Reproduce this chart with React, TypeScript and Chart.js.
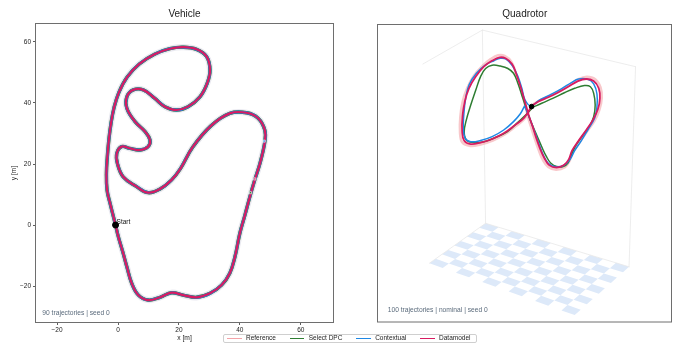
import React, { useEffect, useRef } from 'react';
import { Chart, registerables } from 'chart.js';

Chart.register(...registerables);

const FONT = "'Liberation Sans', Arial, Helvetica, sans-serif";

const seriesNames = ['Reference', 'Select DPC', 'Contextual', 'Datamodel'];
const seriesColors = ['#f4a3a8', '#2e7d32', '#1e88e5', '#d81b60'];

const vehicleTitle = 'Vehicle';
const quadTitle = 'Quadrotor';
const vehicleNote = '90 trajectories | seed 0';
const quadNote = '100 trajectories | nominal | seed 0';
const startLabel = 'Start';

const xTicks = [-20, 0, 20, 40, 60];
const yTicks = [-20, 0, 20, 40, 60];

// Vehicle race-track (x, y in metres)
const trackX = [-0.8, -2.6, -3.6, -3.8, -3.5, -3.0, -2.3, -1.3, 0.3, 3.0, 7.0, 12, 17, 21.4, 25.8, 29.1, 30.2, 29.3, 26.9, 23, 19.2, 15.4, 12.1, 8.3, 5, 2.9, 2.9, 5.6, 8.9, 10.5, 9.9, 7.2, 3.9, 1.2, -0.4, -0.2, 1.7, 6.1, 9.9, 13.8, 17.6, 20.5, 24.5, 30.5, 36.7, 42.2, 46, 48.2, 48.2, 46.6, 44.9, 43.3, 41.6, 40, 38.4, 36.7, 34, 30.2, 25.8, 21.4, 17.6, 13.8, 9.9, 6.7, 4.5, 2.9, 1.7, 0.1, -0.8];
const trackY = [0, 7.1, 11.5, 17, 22.4, 28, 33.3, 38.5, 43.5, 48.5, 52.8, 56, 57.8, 58.3, 57.6, 55.2, 50.8, 46.5, 42, 38.8, 37.7, 38.8, 41.5, 44.3, 44.3, 42, 38.3, 33.9, 30.6, 27.9, 25.7, 24.6, 25.1, 25.7, 23.5, 20.2, 15.8, 12.6, 10.6, 11.8, 14.8, 18.5, 25.5, 32.5, 36.6, 36.8, 35, 31.1, 27.3, 20.2, 14.8, 9.3, 3, -2.7, -10.4, -15.8, -19.7, -22.4, -23.7, -23, -22.2, -23.7, -24.6, -23, -19.1, -13.7, -9.3, -3.8, 0];

const startX = [-0.8];
const startY = [0];
// end markers: Contextual, Datamodel, Select DPC
const endX = [48.0, 44.9, 43.5];
const endY = [27.5, 15.1, 10.6];

// Quadrotor (projected view coordinates)
const quadRefU = [54.4, 56.9, 60.2, 63.6, 66.9, 70.2, 73.0, 75.8, 77.6, 78.0, 77.2, 75.6, 73.1, 70.6, 68.3, 67.2, 65.6, 62.6, 60.0, 58.2, 56.7, 55.3, 54.2, 53.2, 52.4, 51.6, 50.4, 49.1, 47.6, 45.3, 43.1, 40.6, 37.8, 34.9, 32.7, 31.2, 30.4, 30.3, 31.1, 33.7, 37.2, 41.3, 45.3, 49.1, 51.9, 53.4, 54.4];
const quadRefV = [72.2, 73.7, 75.1, 76.8, 78.8, 80.9, 81.7, 80.9, 78.2, 74.6, 70.7, 67.1, 63.6, 60.0, 56.7, 53.8, 51.6, 50.8, 51.7, 54.0, 57.6, 61.6, 65.1, 68.3, 71.6, 74.7, 78.7, 82.9, 86.7, 88.7, 88.9, 87.6, 85.3, 82.0, 77.9, 73.5, 68.4, 63.2, 59.8, 58.7, 59.2, 60.5, 62.5, 65.3, 67.6, 70.0, 72.2];

const quadDpcU = [54.7, 57.8, 61.7, 65.6, 68.9, 72.2, 74.2, 75.3, 75.8, 75.3, 73.9, 71.7, 69.4, 67.8, 66.7, 65.0, 62.8, 60.9, 59.4, 57.8, 56.1, 54.4, 53.1, 52.2, 51.1, 49.8, 48.3, 46.4, 43.9, 41.1, 38.9, 37.2, 35.6, 33.9, 32.4, 31.7, 32.4, 35.0, 38.3, 42.2, 46.1, 49.4, 52.2, 53.7, 54.7];
const quadDpcV = [71.5, 72.9, 74.6, 76.5, 77.9, 78.8, 78.4, 76.2, 72.3, 68.4, 65.3, 62.3, 59.0, 55.7, 53.1, 51.8, 51.8, 52.9, 55.1, 58.4, 62.3, 66.2, 69.5, 72.3, 75.6, 79.5, 82.9, 84.5, 85.3, 85.6, 84.5, 81.8, 77.3, 72.3, 67.3, 63.4, 60.7, 59.8, 60.1, 61.5, 63.4, 66.2, 68.8, 70.4, 71.5];

const quadCtxU = [52.0, 53.1, 54.4, 55.6, 56.9, 58.3, 60.0, 62.2, 65.0, 67.2, 68.9, 71.1, 73.3, 75.6, 76.4, 76.4, 75.3, 73.3, 70.2, 67.8, 64.4, 60.6, 56.7, 54.2, 52.2, 51.1, 49.8, 48.0, 45.8, 43.9, 41.7, 38.9, 35.8, 33.3, 32.2, 31.6, 31.4, 32.0, 33.9, 37.2, 41.1, 45.0, 48.3, 50.6, 52.0];
const quadCtxV = [72.0, 69.5, 66.2, 62.9, 59.3, 55.7, 52.9, 51.8, 52.1, 54.0, 57.1, 60.4, 64.0, 67.9, 71.8, 76.0, 79.4, 80.9, 81.0, 79.8, 77.7, 75.7, 73.8, 72.0, 74.0, 77.9, 81.8, 85.3, 87.6, 87.9, 87.1, 85.7, 82.9, 79.0, 74.6, 69.6, 64.6, 61.3, 60.1, 60.5, 61.8, 64.0, 66.8, 69.4, 72.0];

const quadDmU = [54.4, 56.7, 60.0, 63.3, 66.7, 70.0, 72.8, 75.3, 77.0, 77.4, 76.7, 75.0, 72.8, 70.2, 68.0, 66.9, 65.3, 62.8, 60.3, 58.7, 57.2, 55.8, 54.7, 53.6, 52.7, 51.8, 50.7, 49.3, 47.8, 45.6, 43.6, 41.1, 38.3, 35.6, 33.3, 31.9, 31.1, 31.0, 31.7, 33.9, 37.2, 41.1, 45.0, 48.9, 51.7, 53.3, 54.4];
const quadDmV = [72.0, 73.5, 74.9, 76.5, 78.4, 80.3, 81.0, 80.3, 77.9, 74.6, 70.9, 67.3, 64.0, 60.4, 57.1, 54.2, 52.3, 51.5, 52.3, 54.6, 57.9, 61.8, 65.3, 68.4, 71.5, 74.6, 78.4, 82.5, 86.0, 87.9, 88.2, 87.1, 85.1, 81.8, 77.9, 73.5, 68.4, 63.4, 60.4, 59.3, 59.8, 61.0, 62.9, 65.7, 67.9, 70.1, 72.0];

const quadStartU = [54.4];
const quadStartV = [71.8];

// 3D box corners (projected) and edges
const paneU = [37.8, 17.8, 89.4, 38.9, 87.2, 20.0];
const paneV = [97.3, 86.0, 85.1, 32.9, 18.4, 19.6];
const paneEdges = [[0, 1], [0, 2], [0, 3], [2, 4], [3, 4], [3, 5]];

// floor corners: back, right, front, left
const floorU = [38.9, 87.2, 68.9, 20.0];
const floorV = [32.9, 18.4, 2.3, 19.6];
const floorTilesA = 11;
const floorTilesB = 9;

const pts = (xs: number[], ys: number[]) => xs.map((x, i) => ({ x, y: ys[i] }));
const fmt = (v: any) => (Number(v) < 0 ? '\u2212' + Math.abs(Number(v)) : String(v));

const FRAME = '#6e6e6e';
const NOTE = '#5b6b7c';

const lineDs = (label: string, data: any[], color: string, width: number, order: number, tension = 0.4) => ({
  label,
  data,
  showLine: true,
  borderColor: color,
  backgroundColor: color,
  borderWidth: width,
  pointRadius: 0,
  pointHoverRadius: 0,
  tension,
  fill: false,
  order,
  borderCapStyle: 'round',
  borderJoinStyle: 'round',
});

export default function App() {
  const leftRef = useRef<HTMLCanvasElement>(null);
  const rightRef = useRef<HTMLCanvasElement>(null);

  useEffect(() => {
    Chart.defaults.font.family = FONT;
    Chart.defaults.color = '#222';

    const track = pts(trackX, trackY);

    const leftDecor = {
      id: 'leftDecor',
      afterDraw(chart: any) {
        const { ctx, chartArea: ca } = chart;
        ctx.save();
        ctx.font = `6.7px ${FONT}`;
        ctx.textBaseline = 'middle';
        ctx.textAlign = 'left';
        ctx.fillStyle = NOTE;
        ctx.fillText(vehicleNote, ca.left + 6.3, ca.bottom - 8.7);
        const sx = chart.scales.x.getPixelForValue(startX[0]);
        const sy = chart.scales.y.getPixelForValue(startY[0]);
        ctx.fillStyle = '#111';
        ctx.font = `6.5px ${FONT}`;
        ctx.fillText(startLabel, sx + 1, sy - 2.6);
        ctx.strokeStyle = FRAME;
        ctx.lineWidth = 1;
        ctx.strokeRect(ca.left - 0.5, ca.top - 0.5, ca.right - ca.left + 1, ca.bottom - ca.top + 1);
        ctx.restore();
      },
    };

    const axisCommon = {
      type: 'linear',
      grid: { display: true, drawOnChartArea: false, drawTicks: true, tickLength: 3, tickWidth: 0.8, tickColor: '#333' },
      border: { display: false },
    };

    const left = new Chart(leftRef.current as HTMLCanvasElement, {
      type: 'scatter',
      data: {
        datasets: [
          {
            label: 'start',
            data: pts(startX, startY),
            showLine: false,
            pointRadius: 3,
            pointBackgroundColor: '#000',
            pointBorderColor: '#000',
            order: 0,
          },
          {
            label: 'ends',
            data: pts(endX, endY),
            showLine: false,
            pointRadius: 1.5,
            pointStyle: 'rect',
            pointBackgroundColor: [seriesColors[2], seriesColors[3], seriesColors[1]],
            pointBorderColor: '#ffffff',
            pointBorderWidth: 0.6,
            order: 1,
          },
          lineDs(seriesNames[3], track, seriesColors[3], 2.2, 2),
          lineDs(seriesNames[2], track, seriesColors[2], 2.9, 3),
          lineDs(seriesNames[1], track, seriesColors[1], 3.4, 4),
          lineDs(seriesNames[0], track, seriesColors[0], 3.4, 5),
          lineDs('trajectories', track, 'rgba(175,175,200,0.28)', 6.2, 6),
        ] as any,
      },
      options: {
        animation: false,
        responsive: false,
        maintainAspectRatio: false,
        events: [],
        layout: { padding: { left: 0, right: 7, top: 0, bottom: 0 } },
        plugins: {
          legend: { display: false },
          tooltip: { enabled: false },
          title: {
            display: true,
            text: vehicleTitle,
            fullSize: false,
            color: '#222',
            font: { size: 10, weight: 'normal', family: FONT },
            padding: { top: 8.5, bottom: 3.5 },
          },
        },
        scales: {
          x: {
            ...axisCommon,
            min: -26.92,
            max: 70.58,
            afterFit: (s: any) => { s.height = 23; },
            afterBuildTicks: (s: any) => { s.ticks = xTicks.map((v) => ({ value: v })); },
            ticks: { font: { size: 6.5 }, color: '#222', padding: 1, maxRotation: 0, autoSkip: false, callback: fmt },
            title: { display: true, text: 'x [m]', color: '#222', font: { size: 6.7 }, padding: { top: 0, bottom: 2.7 } },
          },
          y: {
            ...axisCommon,
            min: -31.8,
            max: 65.9,
            afterFit: (s: any) => { s.width = 36; },
            afterBuildTicks: (s: any) => { s.ticks = yTicks.map((v) => ({ value: v })); },
            ticks: { font: { size: 6.5 }, color: '#222', padding: 2, autoSkip: false, callback: fmt },
            title: { display: true, text: 'y [m]', color: '#222', font: { size: 6.7 }, padding: { top: 10, bottom: 0 } },
          },
        },
      } as any,
      plugins: [leftDecor],
    });

    const rightDecor = {
      id: 'rightDecor',
      beforeDatasetsDraw(chart: any) {
        const { ctx } = chart;
        const xs = chart.scales.x;
        const ys = chart.scales.y;
        const P = (s: number, t: number) => {
          const u = (1 - s) * (1 - t) * floorU[0] + s * (1 - t) * floorU[1] + s * t * floorU[2] + (1 - s) * t * floorU[3];
          const v = (1 - s) * (1 - t) * floorV[0] + s * (1 - t) * floorV[1] + s * t * floorV[2] + (1 - s) * t * floorV[3];
          return [xs.getPixelForValue(u), ys.getPixelForValue(v)];
        };
        ctx.save();
        ctx.fillStyle = '#dde9f9';
        for (let i = 0; i < floorTilesA; i++) {
          for (let j = 0; j < floorTilesB; j++) {
            if ((i + j) % 2 !== 0) continue;
            const a = P(i / floorTilesA, j / floorTilesB);
            const b = P((i + 1) / floorTilesA, j / floorTilesB);
            const c = P((i + 1) / floorTilesA, (j + 1) / floorTilesB);
            const d = P(i / floorTilesA, (j + 1) / floorTilesB);
            ctx.beginPath();
            ctx.moveTo(a[0], a[1]);
            ctx.lineTo(b[0], b[1]);
            ctx.lineTo(c[0], c[1]);
            ctx.lineTo(d[0], d[1]);
            ctx.closePath();
            ctx.fill();
          }
        }
        ctx.restore();
      },
      afterDraw(chart: any) {
        const { ctx, chartArea: ca } = chart;
        ctx.save();
        ctx.font = `6.7px ${FONT}`;
        ctx.textBaseline = 'middle';
        ctx.textAlign = 'left';
        ctx.fillStyle = NOTE;
        ctx.fillText(quadNote, ca.left + 10.2, ca.bottom - 12);
        ctx.strokeStyle = FRAME;
        ctx.lineWidth = 1;
        ctx.strokeRect(ca.left, ca.top + 0.5, ca.right - ca.left - 0.5, ca.bottom - ca.top - 0.5);
        ctx.restore();
      },
    };

    const edgeSets = paneEdges.map(([a, b], k) =>
      lineDs('edge' + k, [{ x: paneU[a], y: paneV[a] }, { x: paneU[b], y: paneV[b] }], '#e8e8e8', 0.8, 6, 0)
    );

    const right = new Chart(rightRef.current as HTMLCanvasElement, {
      type: 'scatter',
      data: {
        datasets: [
          {
            label: 'start',
            data: pts(quadStartU, quadStartV),
            showLine: false,
            pointRadius: 2.3,
            pointBackgroundColor: '#000',
            pointBorderColor: '#000',
            order: 0,
          },
          lineDs(seriesNames[3], pts(quadDmU, quadDmV), seriesColors[3], 1.8, 1),
          lineDs(seriesNames[2], pts(quadCtxU, quadCtxV), seriesColors[2], 1.5, 2),
          lineDs(seriesNames[1], pts(quadDpcU, quadDpcV), seriesColors[1], 1.5, 3),
          lineDs(seriesNames[0], pts(quadRefU, quadRefV), 'rgba(244,163,168,0.6)', 2.6, 4),
          ...edgeSets,
        ] as any,
      },
      options: {
        animation: false,
        responsive: false,
        maintainAspectRatio: false,
        events: [],
        layout: { padding: { left: 37.5, right: 2, top: 0, bottom: 23 } },
        plugins: {
          legend: { display: false },
          tooltip: { enabled: false },
          title: {
            display: true,
            text: quadTitle,
            fullSize: false,
            color: '#222',
            font: { size: 10, weight: 'normal', family: FONT },
            padding: { top: 8.5, bottom: 3.5 },
          },
        },
        scales: {
          x: { type: 'linear', display: false, min: 2.5, max: 101.67 },
          y: { type: 'linear', display: false, min: 0, max: 99.33 },
        },
      } as any,
      plugins: [rightDecor],
    });

    return () => {
      left.destroy();
      right.destroy();
    };
  }, []);

  return (
    <div style={{ position: 'absolute', left: 0, top: 0, width: 677, height: 345, background: '#fff', overflow: 'hidden' }}>
      <canvas
        ref={leftRef}
        width={340}
        height={345}
        style={{ position: 'absolute', left: 0, top: 0, width: 340, height: 345, display: 'block' }}
      />
      <canvas
        ref={rightRef}
        width={337}
        height={345}
        style={{ position: 'absolute', left: 340, top: 0, width: 337, height: 345, display: 'block' }}
      />
      <div
        style={{
          position: 'absolute',
          left: 223,
          top: 333.8,
          width: 254,
          height: 9,
          boxSizing: 'border-box',
          border: '0.7px solid #cfcfcf',
          borderRadius: 2,
          background: '#fff',
          display: 'flex',
          alignItems: 'center',
          paddingLeft: 3,
          fontFamily: FONT,
          fontSize: 6.5,
          lineHeight: '8px',
          color: '#222',
          whiteSpace: 'nowrap',
        }}
      >
        {seriesNames.map((name, i) => (
          <div key={name} style={{ display: 'flex', alignItems: 'center', marginRight: i < seriesNames.length - 1 ? 13.8 : 0 }}>
            <span style={{ display: 'inline-block', width: 14.7, height: 1.5, background: seriesColors[i], marginRight: 4.3 }} />
            <span>{name}</span>
          </div>
        ))}
      </div>
    </div>
  );
}
